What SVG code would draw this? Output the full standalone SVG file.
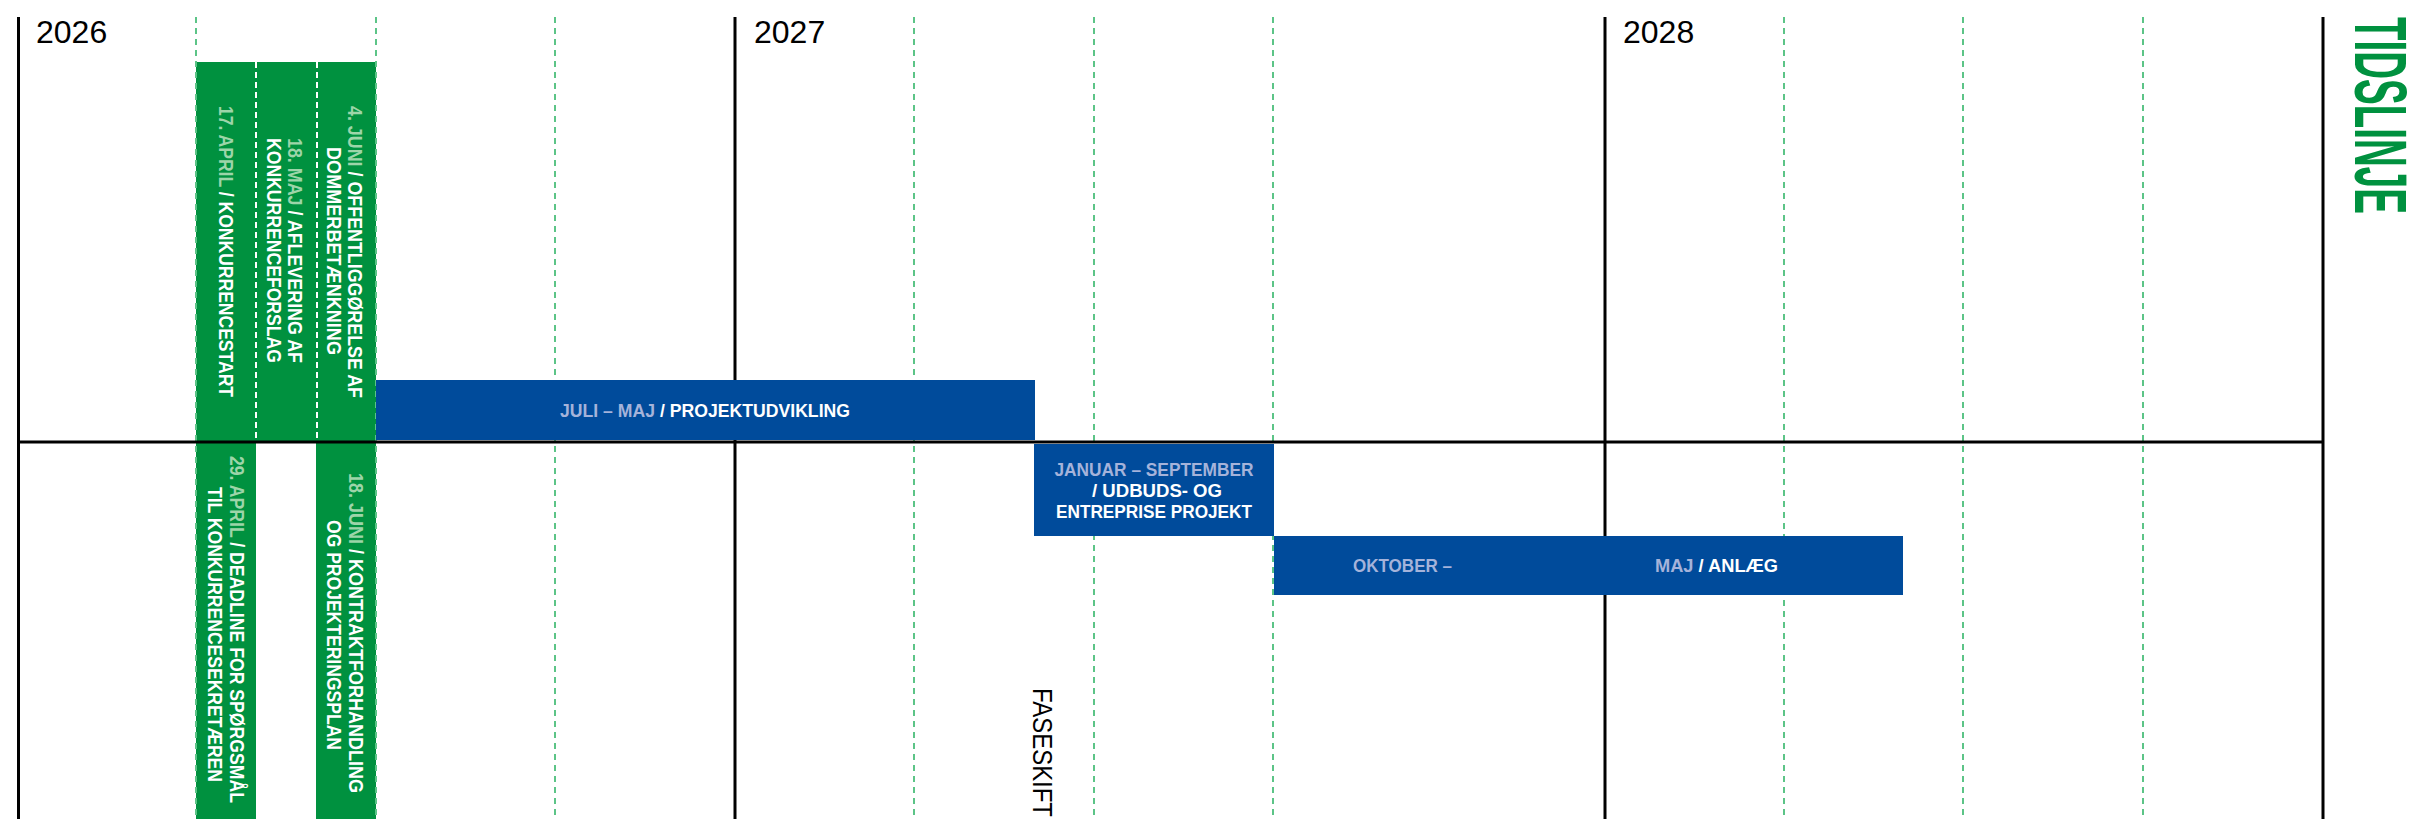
<svg xmlns="http://www.w3.org/2000/svg" width="2416" height="819" viewBox="0 0 2416 819">
<style>
.bg{fill:#ffffff}
.grn{fill:#00913f}
.blu{fill:#004b9b}
.blk{stroke:#000;stroke-width:3;fill:none}
.gd{stroke:#5cc487;stroke-width:2;stroke-dasharray:6 5;fill:none}
.wd{stroke:#ffffff;stroke-width:2;stroke-dasharray:6 4;fill:none}
.yr{font-family:"Liberation Sans",Arial,sans-serif;font-size:32px;fill:#000}
.lb{font-family:"Liberation Sans",Arial,sans-serif;font-size:18px;font-weight:bold;fill:#ffffff}
.vl{font-size:20px}
.dg{fill:#9dd5a9}
.db{fill:#a5b3da}
.ttl{font-family:"Liberation Sans",Arial,sans-serif;font-size:75px;font-weight:bold;fill:#00913f}
.fs{font-family:"Liberation Sans",Arial,sans-serif;font-size:27px;fill:#000}
</style>
<rect class="bg" x="0" y="0" width="2416" height="819"/>

<g id="green-bars">
<rect class="grn" x="196" y="62" width="180" height="380"/>
<rect class="grn" x="196" y="442" width="60" height="377"/>
<rect class="grn" x="316" y="442" width="60" height="377"/>
</g>

<g id="connectors">
<path class="gd" d="M196 17V819M376 17V819M555 17V819M914 17V819M1094 17V819M1273 17V819M1784 17V819M1963 17V819M2143 17V819"/>
<path class="wd" d="M256 62V442M317 62V442"/>
<path class="blk" d="M18.5 17V819M735 17V819M1605 17V819M2323 17V819"/>
</g>

<g id="blue-bars">
<rect class="blu" x="376" y="380" width="659" height="60"/>
<rect class="blu" x="1034" y="444" width="240" height="92"/>
<rect class="blu" x="1274" y="536" width="629" height="59"/>
</g>

<g id="axis">
<path class="blk" d="M17 442H2324"/>
</g>

<g id="years">
<text class="yr" x="36" y="43">2026</text>
<text class="yr" x="754" y="43">2027</text>
<text class="yr" x="1623" y="43">2028</text>
</g>

<g id="m-17april">
<text class="lb vl" transform="translate(219,251.5) rotate(90)" text-anchor="middle" textLength="291" lengthAdjust="spacingAndGlyphs"><tspan class="dg">17. APRIL</tspan> / KONKURRENCESTART</text>
</g>
<g id="m-18maj">
<text class="lb vl" transform="translate(288,250.5) rotate(90)" text-anchor="middle" textLength="225" lengthAdjust="spacingAndGlyphs"><tspan class="dg">18. MAJ</tspan> / AFLEVERING AF</text>
<text class="lb vl" transform="translate(267,250.5) rotate(90)" text-anchor="middle" textLength="225" lengthAdjust="spacingAndGlyphs">KONKURRENCEFORSLAG</text>
</g>
<g id="m-4juni">
<text class="lb vl" transform="translate(348,252) rotate(90)" text-anchor="middle" textLength="292" lengthAdjust="spacingAndGlyphs"><tspan class="dg">4. JUNI</tspan> / OFFENTLIGGØRELSE AF</text>
<text class="lb vl" transform="translate(327,251) rotate(90)" text-anchor="middle" textLength="208" lengthAdjust="spacingAndGlyphs">DOMMERBETÆNKNING</text>
</g>
<g id="m-29april">
<text class="lb vl" transform="translate(230,629.5) rotate(90)" text-anchor="middle" textLength="347" lengthAdjust="spacingAndGlyphs"><tspan class="dg">29. APRIL</tspan> / DEADLINE FOR SPØRGSMÅL</text>
<text class="lb vl" transform="translate(208,634.5) rotate(90)" text-anchor="middle" textLength="295" lengthAdjust="spacingAndGlyphs">TIL KONKURRENCESEKRETÆREN</text>
</g>
<g id="m-18juni">
<text class="lb vl" transform="translate(349,633) rotate(90)" text-anchor="middle" textLength="320" lengthAdjust="spacingAndGlyphs"><tspan class="dg">18. JUNI</tspan> / KONTRAKTFORHANDLING</text>
<text class="lb vl" transform="translate(327,635) rotate(90)" text-anchor="middle" textLength="230" lengthAdjust="spacingAndGlyphs">OG PROJEKTERINGSPLAN</text>
</g>

<g id="p-projektudvikling">
<text class="lb" x="705" y="417" text-anchor="middle" textLength="290" lengthAdjust="spacingAndGlyphs"><tspan class="db">JULI – MAJ</tspan> / PROJEKTUDVIKLING</text>
</g>
<g id="p-udbud">
<text class="lb" x="1154" y="476" text-anchor="middle" textLength="199" lengthAdjust="spacingAndGlyphs"><tspan class="db">JANUAR – SEPTEMBER</tspan></text>
<text class="lb" x="1157" y="497" text-anchor="middle" textLength="130" lengthAdjust="spacingAndGlyphs">/ UDBUDS- OG</text>
<text class="lb" x="1154" y="518" text-anchor="middle" textLength="196" lengthAdjust="spacingAndGlyphs">ENTREPRISE PROJEKT</text>
</g>
<g id="p-anlaeg">
<text class="lb" x="1353" y="572" textLength="99" lengthAdjust="spacingAndGlyphs"><tspan class="db">OKTOBER –</tspan></text>
<text class="lb" x="1655" y="572" textLength="123" lengthAdjust="spacingAndGlyphs"><tspan class="db">MAJ</tspan> / ANLÆG</text>
</g>

<g id="title">
<text class="ttl" transform="translate(2355,17) rotate(90)" textLength="197" lengthAdjust="spacingAndGlyphs">TIDSLINJE</text>
</g>
<g id="faseskift">
<text class="fs" transform="translate(1033,688) rotate(90)" textLength="129" lengthAdjust="spacingAndGlyphs">FASESKIFT</text>
</g>
</svg>
